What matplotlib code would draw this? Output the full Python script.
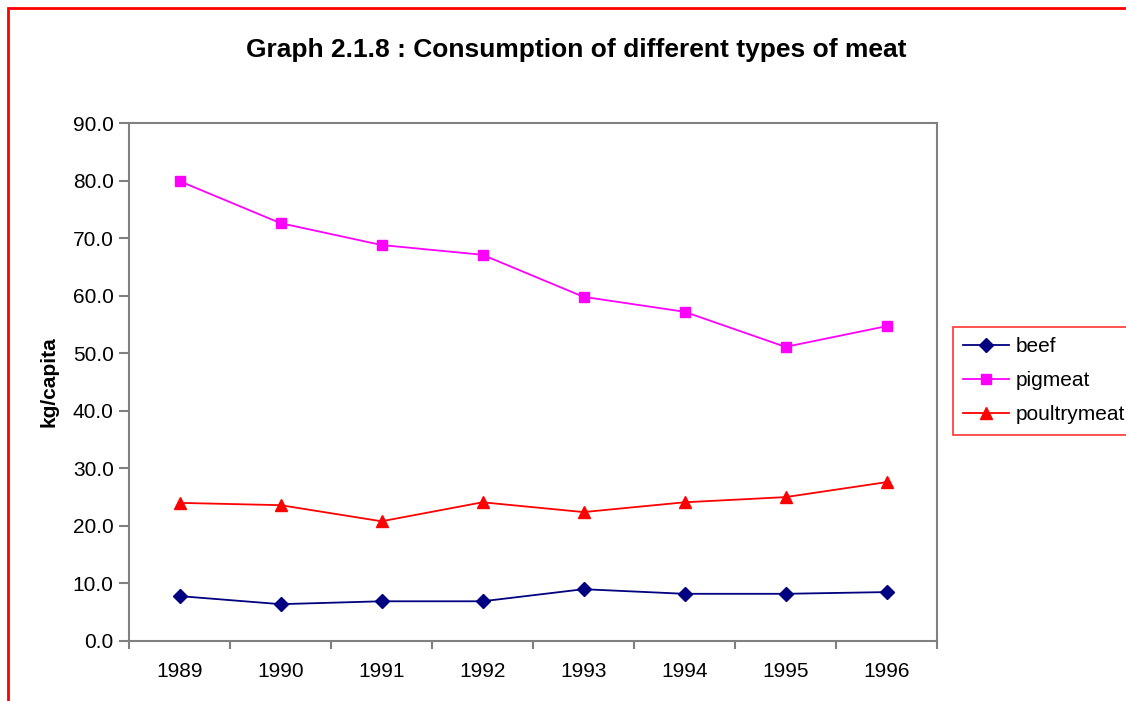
import matplotlib.pyplot as plt
from matplotlib.patches import Rectangle

plt.rcParams['font.family'] = ['Liberation Sans', 'DejaVu Sans']

years = ['1989', '1990', '1991', '1992', '1993', '1994', '1995', '1996']
beef = [7.8, 6.4, 6.9, 6.9, 9.0, 8.2, 8.2, 8.5]
pigmeat = [79.9, 72.6, 68.8, 67.1, 59.8, 57.2, 51.1, 54.7]
poultrymeat = [24.0, 23.6, 20.8, 24.1, 22.4, 24.1, 25.0, 27.6]

fig = plt.figure(figsize=(11.26, 7.01), dpi=100)
ax = fig.add_axes([129 / 1126, 60 / 701, 808 / 1126, 518 / 701])

x = list(range(len(years)))
ax.plot(x, beef, color='#000080', marker='D', markersize=7, lw=1.3, label='beef')
ax.plot(x, pigmeat, color='#FF00FF', marker='s', markersize=7.5, lw=1.3, label='pigmeat')
ax.plot(x, poultrymeat, color='#FF0000', marker='^', markersize=8, lw=1.3, label='poultrymeat')

ax.set_xlim(-0.5, 7.5)
ax.set_ylim(0, 90)
ax.set_yticks(range(0, 91, 10))
ax.set_yticklabels(['%.1f' % v for v in range(0, 91, 10)], fontsize=15)
ax.set_xticks(x)
ax.set_xticklabels(years, fontsize=15)
ax.set_xticks([i - 0.5 for i in range(len(years) + 1)], minor=True)
ax.tick_params(axis='x', which='major', length=0, pad=15)
ax.tick_params(axis='x', which='minor', length=6, color='#808080', width=1.5, direction='out')
ax.tick_params(axis='y', length=7, color='#808080', width=1.5, direction='out', pad=4)
for s in ax.spines.values():
    s.set_color('#808080')
    s.set_linewidth(1.5)

ax.set_ylabel('kg/capita', fontsize=15, fontweight='bold', labelpad=10)
fig.text(576 / 1126, 1 - 50 / 701, 'Graph 2.1.8 : Consumption of different types of meat',
         fontsize=19, fontweight='bold', ha='center', va='center')

leg = fig.legend(loc='upper left', bbox_to_anchor=(953 / 1126, 1 - 327 / 701),
                 fontsize=15, frameon=True, fancybox=False, borderaxespad=0,
                 handlelength=2.2, handletextpad=0.3, labelspacing=0.72, borderpad=0.5)
leg.get_frame().set_edgecolor('#FF0000')
leg.get_frame().set_linewidth(1.2)

fig.patches.append(Rectangle((8 / 1126, -0.2), 2, 1.2 - 8 / 701, transform=fig.transFigure,
                             fill=False, edgecolor='#FF0000', linewidth=2))

fig.savefig('out.png', dpi=100)
